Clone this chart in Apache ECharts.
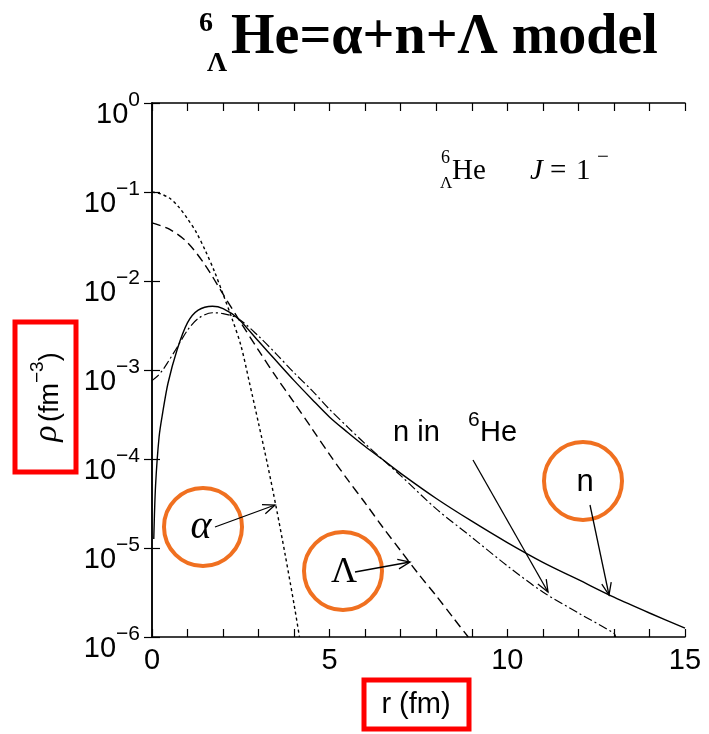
<!DOCTYPE html>
<html>
<head>
<meta charset="utf-8">
<script src="https://cdn.jsdelivr.net/npm/echarts@6/dist/echarts.min.js"></script>
<style>
  html, body { margin: 0; padding: 0; background: #fff; }
  #main { width: 709px; height: 734px; }
</style>
</head>
<body>
<div id="main"></div>
<script>
// radius (fm) and density (fm^-3)
const alphaR = [0, 0.25, 0.5, 0.75, 1, 1.25, 1.5, 1.75, 2, 2.25, 2.5, 2.75, 3, 3.25, 3.5, 3.75, 4, 4.15]
const alphaRho = [1.0e-1, 9.5e-2, 8.5e-2, 6.8e-2, 5.0e-2, 3.5e-2, 2.2e-2, 1.3e-2, 7.1e-3, 3.8e-3, 1.9e-3, 7.0e-4, 2.5e-4, 8.7e-5, 2.8e-5, 8.3e-6, 2.3e-6, 1.0e-6]

const lambdaR = [0, 0.5, 1, 1.5, 2, 2.5, 3, 3.5, 4, 4.5, 5, 5.5, 6, 6.5, 7, 7.5, 8, 8.5, 8.9]
const lambdaRho = [4.5e-2, 3.8e-2, 2.7e-2, 1.5e-2, 7.1e-3, 3.4e-3, 1.66e-3, 8.3e-4, 4.3e-4, 2.2e-4, 1.12e-4, 5.9e-5, 3.2e-5, 1.7e-5, 9.3e-6, 5.1e-6, 2.9e-6, 1.6e-6, 1.0e-6]

const nR = [0.05, 0.1, 0.2, 0.3, 0.45, 0.7, 1, 1.3, 1.7, 2, 2.42, 3, 3.5, 4, 4.5, 5, 5.5, 6, 6.5, 7, 8, 9, 10, 11, 12, 13, 14, 15]
const nRho = [1.26e-5, 5.0e-5, 1.78e-4, 3.3e-4, 7.1e-4, 1.66e-3, 3.4e-3, 4.7e-3, 5.2e-3, 4.9e-3, 3.8e-3, 2.1e-3, 1.26e-3, 7.6e-4, 4.7e-4, 2.95e-4, 2.0e-4, 1.38e-4, 9.8e-5, 6.9e-5, 3.6e-5, 2.0e-5, 1.15e-5, 6.9e-6, 4.4e-6, 2.8e-6, 1.86e-6, 1.26e-6]

const n6HeR = [0, 0.15, 0.3, 0.45, 0.7, 1, 1.3, 1.7, 2, 2.42, 3, 3.5, 4, 4.5, 5, 5.5, 6, 6.5, 7, 8, 9, 10, 11, 12, 13, 13.05]
const n6HeRho = [7.6e-4, 8.5e-4, 1.0e-3, 1.23e-3, 1.78e-3, 2.8e-3, 3.8e-3, 4.4e-3, 4.3e-3, 3.8e-3, 2.4e-3, 1.51e-3, 9.3e-4, 5.9e-4, 3.6e-4, 2.3e-4, 1.48e-4, 9.8e-5, 6.5e-5, 2.75e-5, 1.32e-5, 6.3e-6, 3.2e-6, 1.86e-6, 1.1e-6, 1.0e-6]

const xTicks = [0, 5, 10, 15]

const SANS = 'Liberation Sans, Arial, sans-serif'
const SERIF = 'Liberation Serif, Times New Roman, serif'

function zip(xs, ys) {
  return xs.map((x, i) => [x, ys[i]])
}

function arrow(x1, y1, x2, y2) {
  const a = Math.atan2(y2 - y1, x2 - x1)
  const len = 13
  const sp = 0.38
  const p1 = [x2 - len * Math.cos(a - sp), y2 - len * Math.sin(a - sp)]
  const p2 = [x2 - len * Math.cos(a + sp), y2 - len * Math.sin(a + sp)]
  return [
    { type: 'line', shape: { x1, y1, x2, y2 }, style: { stroke: '#000', lineWidth: 1.3 }, z: 10 },
    { type: 'polyline', shape: { points: [p1, [x2, y2], p2] }, style: { stroke: '#000', lineWidth: 1.3, fill: null }, z: 10 },
  ]
}

function circle(cx, cy) {
  return { type: 'circle', shape: { cx, cy, r: 39 }, style: { stroke: '#f07020', lineWidth: 4, fill: null }, z: 10 }
}

function txt(x, y, text, size, font, opts) {
  return {
    type: 'text', x, y, z: 10,
    style: Object.assign({ text, fontSize: size, fontFamily: font, fill: '#000', align: 'left', verticalAlign: 'middle' }, opts || {}),
  }
}

const chart = echarts.init(document.getElementById('main'))

const lineCommon = { type: 'line', showSymbol: false, symbol: 'none', smooth: 0.3, silent: true }

const option = {
  animation: false,
  backgroundColor: '#fff',
  grid: { left: 152, right: 24, top: 103, bottom: 97 },
  xAxis: [
    {
      type: 'value', min: 0, max: 15, interval: 1,
      axisLine: { lineStyle: { color: '#000', width: 1.5 } },
      axisTick: { inside: true, length: 8, lineStyle: { color: '#000', width: 1.2 } },
      splitLine: { show: false },
      axisLabel: {
        margin: 9, fontSize: 29, fontFamily: SANS, color: '#000',
        formatter: v => (xTicks.indexOf(v) >= 0 ? String(v) : ''),
      },
    },
    {
      type: 'value', min: 0, max: 15, interval: 1, position: 'top',
      axisLine: { lineStyle: { color: '#000', width: 1.5 } },
      axisTick: { inside: true, length: 8, lineStyle: { color: '#000', width: 1.2 } },
      splitLine: { show: false },
      axisLabel: { show: false },
    },
  ],
  yAxis: [
    {
      type: 'log', logBase: 10, min: 1e-6, max: 1, splitNumber: 6,
      axisLine: { show: true, lineStyle: { color: '#000', width: 1.5 } },
      axisTick: { show: true, inside: true, length: 8, lineStyle: { color: '#000', width: 1.2 } },
      splitLine: { show: false },
      axisLabel: {
        margin: 12,
        padding: [13, 0, 0, 0],
        formatter: v => {
          const e = Math.round(Math.log10(v))
          return '{b|10}{s|' + (e < 0 ? '\u2212' + (-e) : e) + '}{z| }'
        },
        rich: {
          b: { fontSize: 29, lineHeight: 29, fontFamily: SANS, color: '#000', verticalAlign: 'bottom' },
          s: { fontSize: 21, lineHeight: 22, fontFamily: SANS, color: '#000', verticalAlign: 'top' },
          z: { fontSize: 1, lineHeight: 40, width: 0, verticalAlign: 'middle' },
        },
      },
    },
    {
      type: 'log', logBase: 10, min: 1e-6, max: 1, splitNumber: 6, position: 'right',
      axisLine: { show: true, lineStyle: { color: '#000', width: 1.5 } },
      axisTick: { show: true, inside: true, length: 8, lineStyle: { color: '#000', width: 1.2 } },
      splitLine: { show: false },
      axisLabel: { show: false },
    },
  ],
  series: [
    Object.assign({}, lineCommon, {
      name: 'alpha', data: zip(alphaR, alphaRho),
      lineStyle: { color: '#000', width: 1.4, type: [3, 3] },
    }),
    Object.assign({}, lineCommon, {
      name: 'Lambda', data: zip(lambdaR, lambdaRho),
      lineStyle: { color: '#000', width: 1.4, type: [9, 5] },
    }),
    Object.assign({}, lineCommon, {
      name: 'n', data: zip(nR, nRho),
      lineStyle: { color: '#000', width: 1.4, type: 'solid' },
    }),
    Object.assign({}, lineCommon, {
      name: 'n in 6He', data: zip(n6HeR, n6HeRho),
      lineStyle: { color: '#000', width: 1.2, type: [9, 3, 2, 3] },
    }),
  ],
  graphic: [
    // title
    txt(199, 24, '6', 28, SERIF, { fontWeight: 'bold' }),
    txt(207, 64, '\u039b', 28, SERIF, { fontWeight: 'bold' }),
    txt(231, 39, 'He=\u03b1+n+\u039b model', 56, SERIF, { fontWeight: 'bold' }),
    // inner label
    txt(441, 158, '6', 18, SERIF),
    txt(440, 184, '\u039b', 17, SERIF),
    txt(452, 171, 'He', 29, SERIF),
    txt(530, 171, 'J', 29, SERIF, { fontStyle: 'italic' }),
    txt(550, 171, '=', 29, SERIF),
    txt(576, 171, '1', 29, SERIF),
    txt(597, 157, '\u2212', 21, SERIF),
    // n in 6He label
    txt(393, 433, 'n in', 29, SANS),
    txt(468, 420, '6', 21, SANS),
    txt(480, 433, 'He', 29, SANS),
    // circles and labels
    circle(203, 527),
    circle(343, 571),
    circle(583, 481),
    txt(201, 527, '\u03b1', 40, SERIF, { align: 'center', fontStyle: 'italic' }),
    txt(344, 573, '\u039b', 36, SERIF, { align: 'center' }),
    txt(585, 482, 'n', 31, SANS, { align: 'center' }),
    ...arrow(215, 527, 275, 505),
    ...arrow(355, 572, 410, 562),
    ...arrow(473, 460, 548, 592),
    ...arrow(590, 505, 609, 595),
    // axis names with red boxes
    { type: 'rect', shape: { x: 364, y: 680, width: 105, height: 49 }, style: { stroke: '#ff0000', lineWidth: 5, fill: null }, z: 10 },
    txt(416, 705, 'r (fm)', 29, SANS, { align: 'center' }),
    { type: 'rect', shape: { x: 15, y: 322, width: 61, height: 150 }, style: { stroke: '#ff0000', lineWidth: 5, fill: null }, z: 10 },
    {
      type: 'text', x: 46, y: 397, rotation: Math.PI / 2, z: 10,
      style: {
        text: '{p|\u03c1} {t|(fm}{s|\u22123}{t|)}',
        align: 'center', verticalAlign: 'middle',
        rich: {
          p: { fontSize: 34, fontFamily: SERIF, fontStyle: 'italic', fill: '#000', lineHeight: 36, verticalAlign: 'bottom' },
          t: { fontSize: 27, fontFamily: SANS, fill: '#000', lineHeight: 30, verticalAlign: 'bottom' },
          s: { fontSize: 19, fontFamily: SANS, fill: '#000', lineHeight: 20, verticalAlign: 'top' },
        },
      },
    },
  ],
}

chart.setOption(option)
window.addEventListener('resize', () => chart.resize())
</script>
</body>
</html>
